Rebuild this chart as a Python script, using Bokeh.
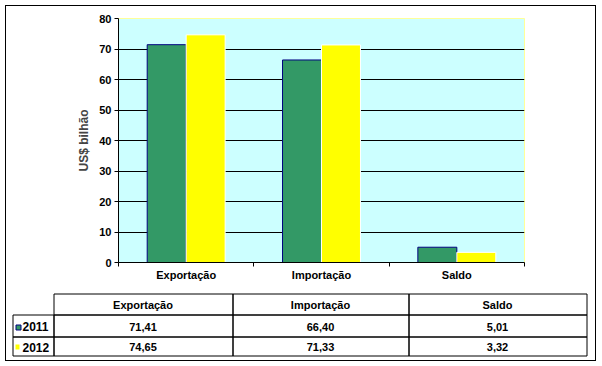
from bokeh.plotting import figure
from bokeh.models import FixedTicker, Range1d
from bokeh.layouts import column, row
from bokeh.core.properties import value
from bokeh.embed import file_html
from bokeh.resources import INLINE

categories = ["Exportação", "Importação", "Saldo"]
years = ["2011", "2012"]
v2011 = [71.41, 66.40, 5.01]
v2012 = [74.65, 71.33, 3.32]
y_ticks = [0, 10, 20, 30, 40, 50, 60, 70, 80]
colors = ["#339966", "#FFFF00"]
outlines = ["#000080", "#FFFFFF"]

FONT = "Liberation Sans"
OX, OY = 6, 6            # inner origin (inside the outer border)
IW, IH = 589, 354        # inner size
CH = 283                 # chart height
TH = IH - CH             # table height
FL, FR, FT, FB = 118, 524, 18, 262   # plot area in page px

p = figure(width=IW, height=CH, output_backend="svg", toolbar_location=None,
           x_range=Range1d(0, len(categories)), y_range=Range1d(0, 80),
           min_border_left=FL - OX, min_border_right=IW - (FR - OX),
           min_border_top=FT - OY, min_border_bottom=CH - (FB - OY))
p.background_fill_color = "#CCFFFF"
p.border_fill_color = "white"
p.outline_line_color = "#FFFF99"
p.outline_line_width = 1

n = len(categories)
centers = [i + 0.5 for i in range(n)]
bw = 0.288
for series, col, oc, off in [(v2011, colors[0], outlines[0], -bw / 2),
                             (v2012, colors[1], outlines[1], bw / 2)]:
    p.vbar(x=[c + off for c in centers], top=series, bottom=0, width=bw,
           fill_color=col, line_color=oc, line_width=1)

p.yaxis.ticker = FixedTicker(ticks=y_ticks)
p.yaxis.axis_line_color = "black"
p.yaxis.major_tick_line_color = "black"
p.yaxis.major_tick_in = 0
p.yaxis.major_tick_out = 4
p.yaxis.minor_tick_line_color = None
p.yaxis.major_label_text_font = FONT
p.yaxis.major_label_text_font_style = "bold"
p.yaxis.major_label_text_font_size = "11px"
p.yaxis.major_label_text_color = "black"
p.yaxis.major_label_standoff = 3
p.yaxis.axis_label = "US$ bilhão"
p.yaxis.axis_label_text_font = FONT
p.yaxis.axis_label_text_font_style = "bold"
p.yaxis.axis_label_text_font_size = "12px"
p.yaxis.axis_label_standoff = 5

p.xaxis.ticker = FixedTicker(ticks=centers, minor_ticks=list(range(n + 1)))
p.xaxis.major_label_overrides = {c: cat for c, cat in zip(centers, categories)}
p.xaxis.major_tick_in = 0
p.xaxis.major_tick_out = 0
p.xaxis.minor_tick_in = 0
p.xaxis.minor_tick_out = 4
p.xaxis.minor_tick_line_color = "black"
p.xaxis.axis_line_color = "black"
p.xaxis.major_label_text_font = FONT
p.xaxis.major_label_text_font_style = "bold"
p.xaxis.major_label_text_font_size = "11px"
p.xaxis.major_label_text_color = "black"
p.xaxis.major_label_standoff = 2

p.xgrid.grid_line_color = None
p.ygrid.ticker = FixedTicker(ticks=y_ticks[1:-1])
p.ygrid.grid_line_color = "black"
p.ygrid.grid_line_width = 1

# ---- data table figure: coordinates are page pixels
TY0 = OY + CH
t = figure(width=IW, height=TH, output_backend="svg", toolbar_location=None,
           x_range=Range1d(OX, OX + IW), y_range=Range1d(TY0 + TH, TY0),
           min_border=0, x_axis_type=None, y_axis_type=None)
t.outline_line_color = None
t.grid.visible = False
t.background_fill_color = "white"
t.border_fill_color = "white"

col_x = [12, 53, 232, 408, 586]
row_y = [293, 314, 336, 355]
fmt = lambda v: f"{v:.2f}".replace(".", ",")

qx0, qx1, qy0, qy1 = [], [], [], []
for j in range(n):
    qx0.append(col_x[j + 1]); qx1.append(col_x[j + 2]); qy0.append(row_y[0]); qy1.append(row_y[1])
for r in range(len(years)):
    for j in range(n + 1):
        qx0.append(col_x[j]); qx1.append(col_x[j + 1]); qy0.append(row_y[r + 1]); qy1.append(row_y[r + 2])
t.quad(left=[v + 0.5 for v in qx0], right=[v + 0.5 for v in qx1],
       top=[v + 0.5 for v in qy0], bottom=[v + 0.5 for v in qy1],
       fill_color=None, line_color="black", line_width=1)

tx, ty, tt = [], [], []
for j in range(n):
    tx.append((col_x[j + 1] + col_x[j + 2]) / 2); ty.append((row_y[0] + row_y[1]) / 2 + 1)
    tt.append(categories[j])
for r, series in enumerate([v2011, v2012]):
    for j in range(n):
        tx.append((col_x[j + 1] + col_x[j + 2]) / 2)
        ty.append((row_y[r + 1] + row_y[r + 2]) / 2 + 1)
        tt.append(fmt(series[j]))
t.text(x=tx, y=ty, text=tt, text_font=value(FONT), text_font_style="bold",
       text_font_size="11px", text_align="center", text_baseline="middle", text_color="black")

yx = [22] * len(years)
yy = [(row_y[r + 1] + row_y[r + 2]) / 2 + 1 for r in range(len(years))]
t.text(x=yx, y=yy, text=years, text_font=value(FONT), text_font_style="bold",
       text_font_size="12px", text_align="left", text_baseline="middle", text_color="black")

t.quad(left=[15.5], right=[20.5], top=[324.5], bottom=[329.5],
       fill_color=colors[0], line_color=outlines[0], line_width=1)
t.quad(left=[15], right=[19], top=[344], bottom=[349],
       fill_color=colors[1], line_color=None)

layout = column(p, row(t, spacing=0), spacing=0, margin=(OY - 1, 0, 0, OX - 1),
                styles={"border": "1px solid black"})

open("out.html", "w").write(file_html(layout, INLINE))
